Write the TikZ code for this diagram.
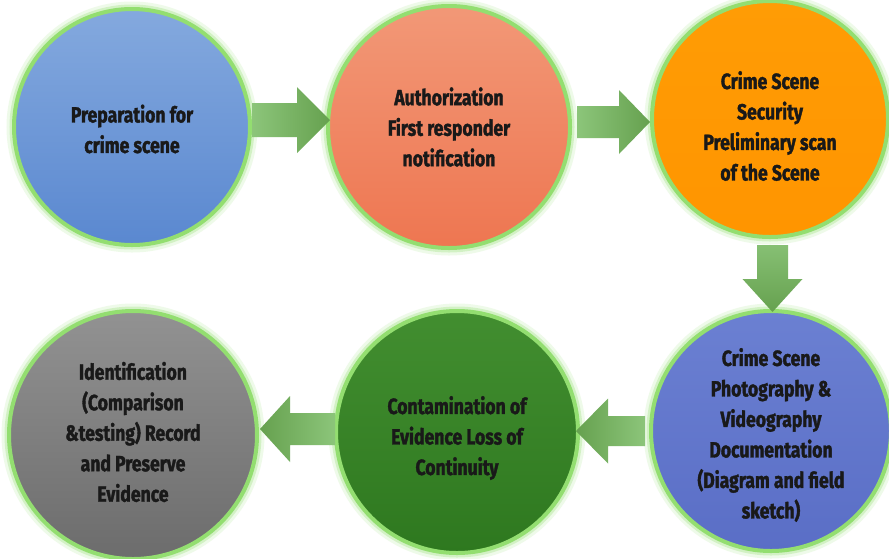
\documentclass[tikz,border=0pt]{standalone}
\usepackage{fontspec}
\newfontfamily\lblfont{Fira Sans}[FakeStretch=0.8, BoldFeatures={FakeBold=1.6}]
\definecolor{glowgreen}{HTML}{93DE70}
\definecolor{arrlight}{HTML}{8CC57A}
\definecolor{arrdark}{HTML}{66A14F}
\definecolor{blueA}{HTML}{84A9DE}
\definecolor{blueB}{HTML}{5A88D0}
\definecolor{salmonA}{HTML}{F29877}
\definecolor{salmonB}{HTML}{EE7651}
\definecolor{orangeA}{HTML}{FF9C05}
\definecolor{orangeB}{HTML}{FF9500}
\definecolor{violetA}{HTML}{6B80D2}
\definecolor{violetB}{HTML}{5A6EC6}
\definecolor{greenA}{HTML}{428E30}
\definecolor{greenB}{HTML}{2E781F}
\definecolor{greyA}{HTML}{929292}
\definecolor{greyB}{HTML}{6C6C6C}
\begin{document}
\begin{tikzpicture}[x=1pt,y=-1pt,
  stage/.style 2 args={circle, inner sep=0pt, minimum size=#1,
     top color=#2A, bottom color=#2B,
     draw=glowgreen, line width=4pt,
     preaction={draw=glowgreen, draw opacity=0.15, line width=15pt},
     preaction={draw=glowgreen, draw opacity=0.3, line width=9pt}},
  caption/.style={font=\lblfont\bfseries\fontsize{22}{30.5}\selectfont,
     align=center, text=black!90, inner sep=0pt},
  pics/rarrow/.style n args={4}{code={
     \shade[left color=arrlight, right color=arrdark]
       (0,-#3) -- ({#1-#2},-#3) -- ({#1-#2},-#4) -- (#1,0)
       -- ({#1-#2},#4) -- ({#1-#2},#3) -- (0,#3) -- cycle;}},
  pics/larrow/.style n args={4}{code={
     \shade[left color=arrdark, right color=arrlight]
       (0,-#3) -- ({-(#1-#2)},-#3) -- ({-(#1-#2)},-#4) -- ({-#1},0)
       -- ({-(#1-#2)},#4) -- ({-(#1-#2)},#3) -- (0,#3) -- cycle;}},
  pics/darrow/.style n args={4}{code={
     \shade[top color=arrlight!85!arrdark, bottom color=arrdark]
       (-#3,0) -- (#3,0) -- (#3,{#1-#2}) -- (#4,{#1-#2}) -- (0,#1)
       -- (-#4,{#1-#2}) -- (-#3,{#1-#2}) -- cycle;}},
]
% canvas
\fill[white] (0,0) rectangle (889,558);
\useasboundingbox (0,0) rectangle (889,558);

% process stages
\node[stage={236pt}{blue}]   (c1) at (132,127) {};
\node[stage={242pt}{salmon}] (c2) at (449,127) {};
\node[stage={236pt}{orange}] (c3) at (770,119) {};
\node[stage={240pt}{violet}] (c4) at (771,431) {};
\node[stage={242pt}{green}]  (c5) at (457,432) {};
\node[stage={248pt}{grey}]   (c6) at (133,435) {};

% stage captions
\node[caption] (t1) at ([yshift=-2pt]c1) {Preparation for\\crime scene};
\node[caption] (t2) at (c2) {Authorization\\First responder\\notification};
\node[caption] (t3) at ([yshift=-7pt]c3) {Crime Scene\\Security\\Preliminary scan\\of the Scene};
\node[caption] (t4) at ([yshift=-4pt]c4) {Crime Scene\\Photography \&\\Videography\\Documentation\\(Diagram and field\\sketch)};
\node[caption] (t5) at ([yshift=-6pt]c5) {Contamination of\\Evidence Loss of\\Continuity};
\node[caption] (t6) at ([yshift=3pt]c6) {Identification\\(Comparison\\\&testing) Record\\and Preserve\\Evidence};

% flow arrows between stages
\path ([yshift=7pt]c1.east) pic {rarrow={78}{33}{17}{33}};
\path ([xshift=5pt,yshift=5pt]c2.east) pic {rarrow={73}{31}{16}{32}};
\path ([xshift=2.5pt,yshift=-6pt]c3.south) pic {darrow={67}{33}{15.5}{30}};
\path ([xshift=-4pt]c4.west) pic {larrow={69}{32}{15}{32.5}};
\path ([xshift=1pt,yshift=3pt]c5.west) pic {larrow={75}{30}{16}{33}};
\end{tikzpicture}
\end{document}
